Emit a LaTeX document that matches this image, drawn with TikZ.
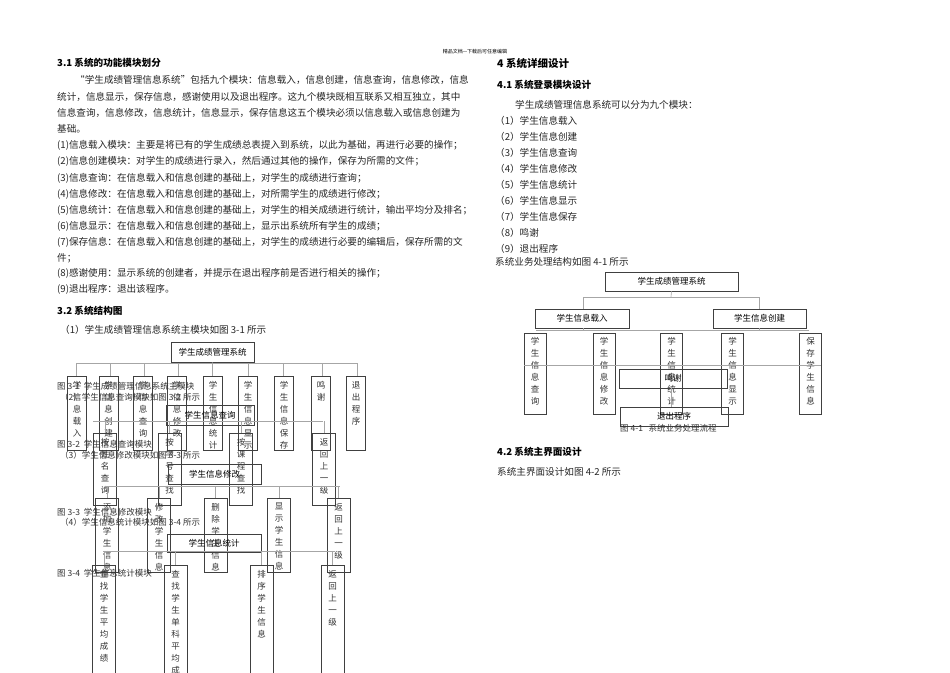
\documentclass[tikz,border=0pt]{standalone}
\usepackage{fontspec}
\setmainfont{Noto Sans CJK SC}
\begin{document}
\begin{tikzpicture}[x=1pt,y=-1pt,
  txt/.style={anchor=west,inner sep=0pt,font=\fontsize{9.6}{11}\selectfont,text=black!85},
  hd/.style={anchor=west,inner sep=0pt,font=\fontsize{9.6}{11}\selectfont\bfseries},
  bx/.style={draw=black!75,line width=0.8pt,inner sep=0pt},
  vt/.style={font=\fontsize{8.5}{12}\selectfont,align=center,inner sep=0pt,text=black!80},
  ln/.style={draw=black!35,line width=0.6pt},
  capt/.style={anchor=west,inner sep=0pt,font=\fontsize{8.5}{10}\selectfont,text=black!80}]
\useasboundingbox[fill=white] (0,0) rectangle (950,672);
\node[inner sep=0pt,font=\fontsize{5}{6}\selectfont] (hdr) at (475,52) {精品文档---下载后可任意编辑};
% left text
\node[hd] (t0) at (57,63) {3.1\ 系统的功能模块划分};
\node[txt] (t1) at (75,80) {“学生成绩管理信息系统”包括九个模块：信息载入，信息创建，信息查询，信息修改，信息};
\node[txt] (t2) at (57,97) {统计，信息显示，保存信息，感谢使用以及退出程序。这九个模块既相互联系又相互独立，其中};
\node[txt] (t3) at (57,113) {信息查询，信息修改，信息统计，信息显示，保存信息这五个模块必须以信息载入或信息创建为};
\node[txt] (t4) at (57,129) {基础。};
\node[txt] (t5) at (57,145) {(1)信息载入模块：主要是将已有的学生成绩总表提入到系统，以此为基础，再进行必要的操作；};
\node[txt] (t6) at (57,161) {(2)信息创建模块：对学生的成绩进行录入，然后通过其他的操作，保存为所需的文件；};
\node[txt] (t7) at (57,178) {(3)信息查询：在信息载入和信息创建的基础上，对学生的成绩进行查询；};
\node[txt] (t8) at (57,194) {(4)信息修改：在信息载入和信息创建的基础上，对所需学生的成绩进行修改；};
\node[txt] (t9) at (57,210) {(5)信息统计：在信息载入和信息创建的基础上，对学生的相关成绩进行统计，输出平均分及排名；};
\node[txt] (t10) at (57,226) {(6)信息显示：在信息载入和信息创建的基础上，显示出系统所有学生的成绩；};
\node[txt] (t11) at (57,242) {(7)保存信息：在信息载入和信息创建的基础上，对学生的成绩进行必要的编辑后，保存所需的文};
\node[txt] (t12) at (57,258) {件；};
\node[txt] (t13) at (57,273) {(8)感谢使用：显示系统的创建者，并提示在退出程序前是否进行相关的操作；};
\node[txt] (t14) at (57,289) {(9)退出程序：退出该程序。};
\node[hd] (t15) at (57,311) {3.2\ 系统结构图};
\node[txt] (t16) at (60,330) {（1）学生成绩管理信息系统主模块如图 3-1 所示};
% diagram 3-1
\node[bx,minimum width=83,minimum height=20] (r1) at (212.5,352) {\fontsize{8.5}{10}\selectfont 学生成绩管理系统};
\draw[ln] (76,363) -- (357,363);
\draw[ln] (r1.south) -- (212,363);
\foreach \cx/\px/\t [count=\i] in {77/76/学\\信\\息\\载\\入, 108.5/110/学\\信\\息\\创\\建, 143/144/学\\信\\息\\查\\询, 177/178/学\\信\\息\\修\\改, 213/212/学\\生\\信\\息\\统\\计, 248/248/学\\生\\信\\息\\显\\示, 284/283/学\\生\\信\\息\\保\\存, 321/322/鸣\\谢, 356/357/退\\出\\程\\序}{
  \node[bx,minimum width=19,minimum height=74,anchor=north] (m\i) at (\cx,376) {};
  \node[vt,anchor=north] (mt\i) at (\cx,381) {\t};
  \draw[ln] (\px,363) -- (\px,376);
}
\node[capt] (c1) at (57,386) {图 3-1\ \ 学生成绩管理信息系统主模块};
\node[capt] (c1b) at (60,397) {（2）学生信息查询模块如图 3-2 所示};
% diagram 3-2
\node[bx,minimum width=88,minimum height=20] (r2) at (210,415) {\fontsize{8.5}{10}\selectfont 学生信息查询};
\draw[ln] (93,421) -- (323,421);
\foreach \cx/\t [count=\i] in {105/按\\姓\\名\\查\\询, 169.5/按\\学\\号\\查\\找, 241/按\\课\\程\\查\\找, 324/返\\回\\上\\一\\级}{
  \node[bx,minimum width=23,minimum height=72,anchor=north] (q\i) at (\cx,433) {};
  \node[vt,anchor=north] (qt\i) at (\cx,438) {\t};
  \draw[ln] (\cx,421) -- (\cx,433);
}
\node[capt] (c2) at (57,444) {图 3-2\ \ 学生信息查询模块};
\node[capt] (c2b) at (60,455) {（3）学生信息修改模块如图 3-3 所示};
% diagram 3-3
\node[bx,minimum width=93,minimum height=20] (r3) at (214.5,474) {\fontsize{8.5}{10}\selectfont 学生信息修改};
\draw[ln] (105,486) -- (340,486);
\foreach \cx/\t [count=\i] in {107/添\\加\\学\\生\\信\\息, 159/修\\改\\学\\生\\信\\息, 215.5/删\\除\\学\\生\\信\\息, 279/显\\示\\学\\生\\信\\息, 338.5/返\\回\\上\\一\\级}{
  \node[bx,minimum width=23,minimum height=74,anchor=north] (e\i) at (\cx,498) {};
  \node[vt,anchor=north] (et\i) at (\cx,503) {\t};
  \draw[ln] (\cx,486) -- (\cx,498);
}
\node[capt] (c3) at (57,512) {图 3-3\ \ 学生信息修改模块};
\node[capt] (c3b) at (60,522) {（4）学生信息统计模块如图 3-4 所示};
% diagram 3-4
\node[bx,minimum width=94,minimum height=18] (r4) at (214,543) {\fontsize{8.5}{10}\selectfont 学生信息统计};
\draw[ln] (103,551) -- (335,551);
\foreach \cx/\t [count=\i] in {104/查\\找\\学\\生\\平\\均\\成\\绩, 175.5/查\\找\\学\\生\\单\\科\\平\\均\\成\\绩, 261.5/排\\序\\学\\生\\信\\息, 332.5/返\\回\\上\\一\\级}{
  \node[bx,minimum width=23,minimum height=120,anchor=north] (s\i) at (\cx,565) {};
  \node[vt,anchor=north] (st\i) at (\cx,570) {\t};
  \draw[ln] (\cx,551) -- (\cx,565);
}
\node[capt] (c4) at (57,573) {图 3-4\ \ 学生信息统计模块};
% right text
\node[hd,font=\fontsize{10.5}{12}\selectfont\bfseries] (u0) at (497,63) {4 系统详细设计};
\node[hd] (u1) at (497,85) {4.1\ 系统登录模块设计};
\node[txt] (u2) at (515,105) {学生成绩管理信息系统可以分为九个模块：};
\foreach \t [count=\i] in {（1）学生信息载入,（2）学生信息创建,（3）学生信息查询,（4）学生信息修改,（5）学生信息统计,（6）学生信息显示,（7）学生信息保存,（8）鸣谢,（9）退出程序}{
  \node[txt] (ul\i) at (495,105+16*\i) {\t};
}
\node[txt] (u3) at (495,262) {系统业务处理结构如图 4-1 所示};
% diagram 4-1
\node[bx,minimum width=133,minimum height=19] (w0) at (671.5,281.5) {\fontsize{8.5}{10}\selectfont 学生成绩管理系统};
\draw[ln] (w0.south) -- (671,297);
\draw[ln] (583,297) -- (759,297);
\draw[ln] (583,297) -- (583,309);
\draw[ln] (759,297) -- (759,309);
\node[bx,minimum width=94,minimum height=19] (wa) at (582,318.5) {\fontsize{8.5}{10}\selectfont 学生信息载入};
\node[bx,minimum width=93,minimum height=19] (wb) at (759.5,318.5) {\fontsize{8.5}{10}\selectfont 学生信息创建};
\draw[ln] (536,330) -- (809,330);
\draw[ln] (583,328) -- (583,330);
\draw[ln] (759,328) -- (759,330);
\foreach \cx/\t [count=\i] in {535/学\\生\\信\\息\\查\\询, 604/学\\生\\信\\息\\修\\改, 671.5/学\\生\\信\\息\\统\\计, 732.5/学\\生\\信\\息\\显\\示, 810.5/保\\存\\学\\生\\信\\息}{
  \node[bx,minimum width=22,minimum height=81,anchor=north] (w\i) at (\cx,333) {};
  \node[vt,anchor=north] (wt\i) at (\cx,337) {\t};
}
\draw[ln] (524,365) -- (821,365);
\node[bx,minimum width=108,minimum height=19] (wx) at (673,378.5) {\fontsize{8.5}{10}\selectfont 鸣谢};
\draw[ln] (671,388) -- (671,407);
\node[bx,minimum width=108,minimum height=19] (wy) at (674,416.5) {\fontsize{8.5}{10}\selectfont 退出程序};
\node[capt] (wc) at (620,428) {图 4-1\ \ \ 系统业务处理流程};
\node[hd] (u4) at (497,452) {4.2\ 系统主界面设计};
\node[txt] (u5) at (497,472) {系统主界面设计如图 4-2 所示};
\end{tikzpicture}
\end{document}
